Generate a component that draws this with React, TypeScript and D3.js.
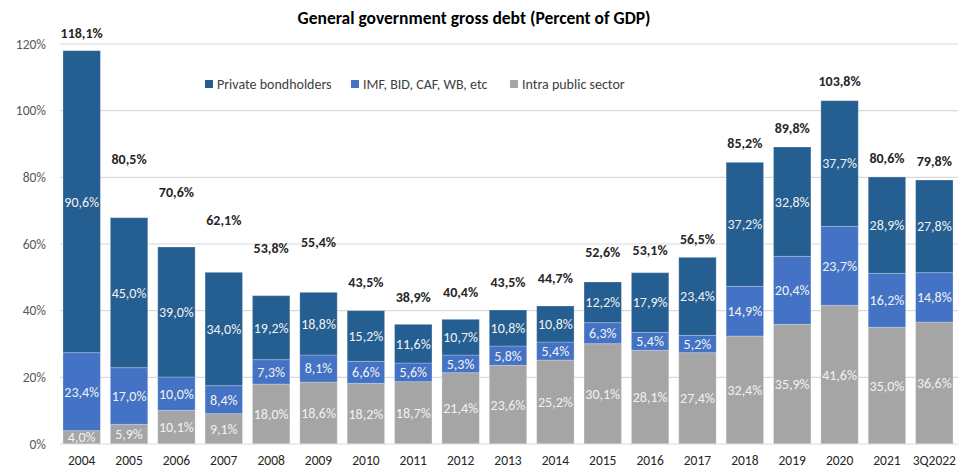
import React from "react";
import * as d3 from "d3";

const categories = ["2004","2005","2006","2007","2008","2009","2010","2011","2012","2013","2014","2015","2016","2017","2018","2019","2020","2021","3Q2022"];
const intraPublic = [4.0,5.9,10.1,9.1,18.0,18.6,18.2,18.7,21.4,23.6,25.2,30.1,28.1,27.4,32.4,35.9,41.6,35.0,36.6];
const multilateral = [23.4,17.0,10.0,8.4,7.3,8.1,6.6,5.6,5.3,5.8,5.4,6.3,5.4,5.2,14.9,20.4,23.7,16.2,14.8];
const privateHolders = [90.6,45.0,39.0,34.0,19.2,18.8,15.2,11.6,10.7,10.8,10.8,12.2,17.9,23.4,37.2,32.8,37.7,28.9,27.8];
const totals = [118.1,80.5,70.6,62.1,53.8,55.4,43.5,38.9,40.4,43.5,44.7,52.6,53.1,56.5,85.2,89.8,103.8,80.6,79.8];
const yTicks = [0,20,40,60,80,100,120];

const seriesNames = ["Intra public sector","IMF, BID, CAF, WB, etc","Private bondholders"];
const seriesColors = ["#A5A5A5","#4472C4","#255E91"];

const W = 958, H = 468;
const FONT = "Carlito, Lato, 'Open Sans', sans-serif";
const fmt = (v: number) => v.toFixed(1).replace(".", ",") + "%";

export default function App() {
  const x = d3.scaleBand<string>().domain(categories).range([58, 958]).paddingInner(0.21).paddingOuter(0.105);
  const y = d3.scaleLinear().domain([0, 120]).range([444, 44]);

  const rows = categories.map((c, i) => ({ cat: c, s0: intraPublic[i], s1: multilateral[i], s2: privateHolders[i] }));
  const stack = d3.stack<any>().keys(["s0","s1","s2"])(rows);

  const legendItems = [
    { name: seriesNames[2], color: seriesColors[2], x: 205 },
    { name: seriesNames[1], color: seriesColors[1], x: 351 },
    { name: seriesNames[0], color: seriesColors[0], x: 510 },
  ];

  return (
    <svg width={W} height={H} style={{ position: "absolute", left: 0, top: 0, background: "#fff" }} fontFamily={FONT}>
      <text x={474} y={24} textAnchor="middle" fontSize={17.5} fontWeight="bold" fill="#000">General government gross debt (Percent of GDP)</text>
      {yTicks.map(t => (
        <g key={t}>
          {t > 0 && <line x1={60} x2={958} y1={y(t)} y2={y(t)} stroke="#D9D9D9" strokeWidth={1.2} />}
          <text x={46} y={y(t)} dy="0.35em" textAnchor="end" fontSize={13.5} fill="#595959">{t}%</text>
        </g>
      ))}
      {stack.map((layer, li) => (
        <g key={li}>
          {layer.map((d, i) => (
            <rect key={i} x={x(categories[i])} width={x.bandwidth()} y={y(d[1])} height={y(d[0]) - y(d[1])} fill={seriesColors[li]} stroke="#ffffff" strokeOpacity={0.25} strokeWidth={1} />
          ))}
        </g>
      ))}
      {stack.map((layer, li) => (
        <g key={"l" + li}>
          {layer.map((d, i) => (
            <text key={i} x={(x(categories[i]) as number) + x.bandwidth() / 2} y={(y(d[0]) + y(d[1])) / 2} dy="0.35em" textAnchor="middle" fontSize={14} fill="#F2F2F2">{fmt(d[1] - d[0])}</text>
          ))}
        </g>
      ))}
      <line x1={60} x2={958} y1={y(0)} y2={y(0)} stroke="#D9D9D9" strokeWidth={1.2} />
      {totals.map((t, i) => (
        <text key={i} x={(x(categories[i]) as number) + x.bandwidth() / 2} y={y(t) - 17} dy="0.35em" textAnchor="middle" fontSize={14} fontWeight="bold" fill="#262626">{fmt(t)}</text>
      ))}
      {categories.map(c => (
        <text key={c} x={(x(c) as number) + x.bandwidth() / 2} y={460} dy="0.35em" textAnchor="middle" fontSize={13.5} fill="#262626">{c}</text>
      ))}
      {legendItems.map(l => (
        <g key={l.name}>
          <rect x={l.x} y={80} width={8} height={8} fill={l.color} />
          <text x={l.x + 12} y={84} dy="0.35em" fontSize={14} fill="#404040">{l.name}</text>
        </g>
      ))}
    </svg>
  );
}
